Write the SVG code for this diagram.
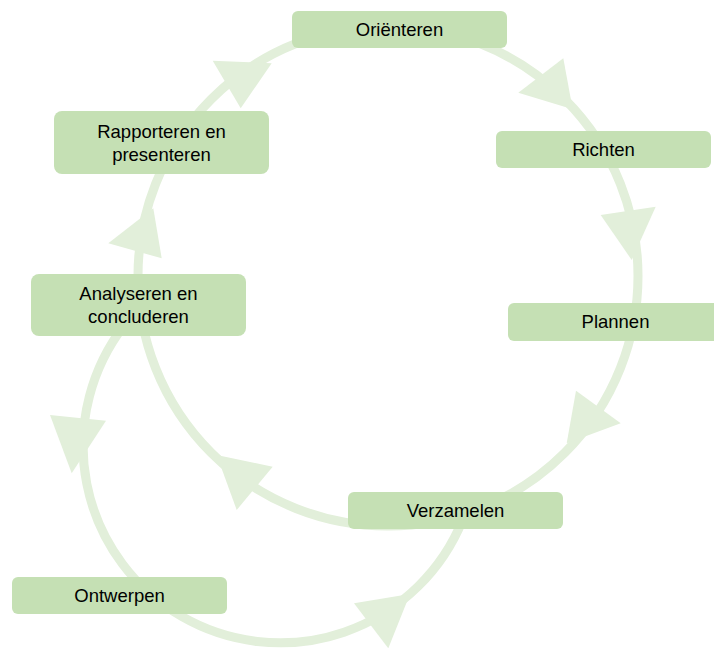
<svg xmlns="http://www.w3.org/2000/svg" width="714" height="648" viewBox="0 0 714 648">
  <style>
    .arc { fill: none; stroke: #E2EFDA; stroke-width: 9; }
    .head { fill: #E2EFDA; stroke: none; }
    .box { fill: #C5E0B4; stroke: none; }
    .lbl { font-family: "Liberation Sans", Arial, sans-serif; font-size: 18.5px; fill: #000000; text-anchor: middle; }
  </style>
  <rect x="0" y="0" width="714" height="648" fill="#FFFFFF"/>
  <g id="connectors">
    <circle class="arc" cx="388" cy="276" r="250"/>
    <path class="arc" d="M124.5,325 A197,197 0 1 0 462.6,520"/>
    <polygon class="head" points="212.7,60.7 271.7,63.3 240.7,108.3"/>
    <polygon class="head" points="518.3,92.7 563.3,58.3 572.7,109.3"/>
    <polygon class="head" points="600.7,215 655.7,206.7 631.7,260"/>
    <polygon class="head" points="576,390.7 620.7,423.3 566.7,443.3"/>
    <polygon class="head" points="216.7,455 272.7,466.7 236.7,510"/>
    <polygon class="head" points="108.3,243.3 153.3,208.3 161.7,258.3"/>
    <polygon class="head" points="50,415 106,420.7 71.7,473.3"/>
    <polygon class="head" points="354,603.3 410,594 388.3,648.3"/>
  </g>
  <g id="node-orienteren">
    <rect class="box" x="292" y="11" width="215" height="37" rx="6"/>
    <text class="lbl" x="399.5" y="35.5">Oriënteren</text>
  </g>
  <g id="node-richten">
    <rect class="box" x="496" y="131" width="215" height="37" rx="6"/>
    <text class="lbl" x="603.5" y="155.5">Richten</text>
  </g>
  <g id="node-plannen">
    <rect class="box" x="508" y="303" width="215" height="38" rx="6"/>
    <text class="lbl" x="615.5" y="328">Plannen</text>
  </g>
  <g id="node-verzamelen">
    <rect class="box" x="348" y="492" width="215" height="37" rx="6"/>
    <text class="lbl" x="455.5" y="516.5">Verzamelen</text>
  </g>
  <g id="node-ontwerpen">
    <rect class="box" x="12" y="577" width="215" height="37" rx="6"/>
    <text class="lbl" x="119.5" y="601.5">Ontwerpen</text>
  </g>
  <g id="node-analyseren">
    <rect class="box" x="31" y="274" width="215" height="62" rx="8"/>
    <text class="lbl" x="138.5" y="299.5">Analyseren en</text>
    <text class="lbl" x="138.5" y="322.5">concluderen</text>
  </g>
  <g id="node-rapporteren">
    <rect class="box" x="54" y="111" width="215" height="63" rx="8"/>
    <text class="lbl" x="161.5" y="137.5">Rapporteren en</text>
    <text class="lbl" x="161.5" y="160.5">presenteren</text>
  </g>
</svg>
